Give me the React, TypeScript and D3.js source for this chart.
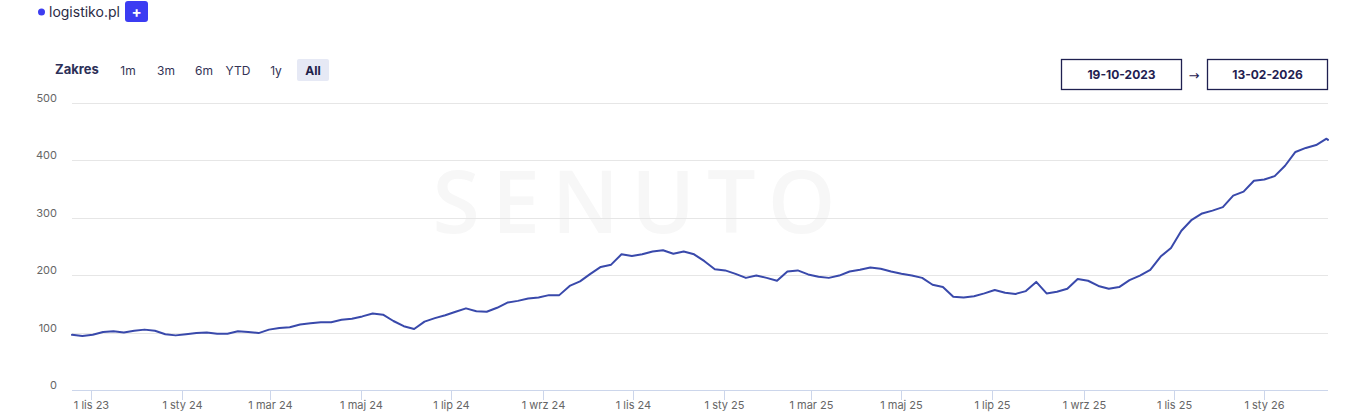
import React from "react";
import * as d3 from "d3";

const dates: string[] = [
  "2023-10-19","2023-10-26","2023-11-02","2023-11-09","2023-11-16","2023-11-23","2023-11-30","2023-12-07","2023-12-14","2023-12-21","2023-12-28",
  "2024-01-04","2024-01-11","2024-01-18","2024-01-25","2024-02-01","2024-02-08","2024-02-15","2024-02-22","2024-02-29","2024-03-07","2024-03-14","2024-03-21","2024-03-28",
  "2024-04-04","2024-04-11","2024-04-18","2024-04-25","2024-05-02","2024-05-09","2024-05-16","2024-05-23","2024-05-30","2024-06-06","2024-06-13","2024-06-20","2024-06-27",
  "2024-07-04","2024-07-11","2024-07-18","2024-07-25","2024-08-01","2024-08-08","2024-08-15","2024-08-22","2024-08-29","2024-09-05","2024-09-12","2024-09-19","2024-09-26",
  "2024-10-03","2024-10-10","2024-10-17","2024-10-24","2024-10-31","2024-11-07","2024-11-14","2024-11-21","2024-11-28","2024-12-05","2024-12-12","2024-12-19","2024-12-26",
  "2025-01-02","2025-01-09","2025-01-16","2025-01-23","2025-01-30","2025-02-06","2025-02-13","2025-02-20","2025-02-27","2025-03-06","2025-03-13","2025-03-20","2025-03-27",
  "2025-04-03","2025-04-10","2025-04-17","2025-04-24","2025-05-01","2025-05-08","2025-05-15","2025-05-22","2025-05-29","2025-06-05","2025-06-12","2025-06-19","2025-06-26",
  "2025-07-03","2025-07-10","2025-07-17","2025-07-24","2025-07-31","2025-08-07","2025-08-14","2025-08-21","2025-08-28","2025-09-04","2025-09-11","2025-09-18","2025-09-25",
  "2025-10-02","2025-10-09","2025-10-16","2025-10-23","2025-10-30","2025-11-06","2025-11-13","2025-11-20","2025-11-27","2025-12-04","2025-12-11","2025-12-18","2025-12-25",
  "2026-01-01","2026-01-08","2026-01-15","2026-01-22","2026-01-29","2026-02-05","2026-02-12","2026-02-13"
];

const values: number[] = [
  96,94,96,101,102,100,103,105,103,97,95,
  97,99,100,98,98,102,101,99,105,108,109,114,116,
  118,118,122,124,128,133,131,120,111,106,119,125,130,
  136,142,137,136,143,152,155,159,161,165,165,181,189,
  202,214,218,236,233,236,241,243,237,241,236,224,210,
  208,202,195,199,195,190,206,208,201,197,195,199,206,
  209,213,211,206,202,199,195,183,179,162,161,163,168,
  174,169,167,172,188,168,171,176,193,190,181,176,179,
  191,199,209,232,247,277,296,307,312,318,338,345,364,
  366,372,390,414,421,426,437,435
];

const yTicks: number[] = [0, 100, 200, 300, 400, 500];

const xTickDates: string[] = [
  "2023-11-01","2024-01-01","2024-03-01","2024-05-01","2024-07-01","2024-09-01","2024-11-01",
  "2025-01-01","2025-03-01","2025-05-01","2025-07-01","2025-09-01","2025-11-01","2026-01-01"
];
const xTickLabels: string[] = [
  "1 lis 23","1 sty 24","1 mar 24","1 maj 24","1 lip 24","1 wrz 24","1 lis 24",
  "1 sty 25","1 mar 25","1 maj 25","1 lip 25","1 wrz 25","1 lis 25","1 sty 26"
];

const rangeButtons: string[] = ["1m", "3m", "6m", "YTD", "1y", "All"];
const startLabel = "19-10-2023";
const endLabel = "13-02-2026";
const siteName = "logistiko.pl";

const FONT = "Inter, 'Open Sans', sans-serif";

export default function App() {
  const W = 1359, H = 420;
  const left = 72, right = 1328, top = 102.5, bottom = 390;
  const parse = d3.timeParse("%Y-%m-%d");
  const data = dates.map((d, i) => ({ date: parse(d) as Date, value: values[i] }));
  const x = d3.scaleTime()
    .domain([parse("2023-10-19") as Date, parse("2026-02-13") as Date])
    .range([left, right]);
  const y = d3.scaleLinear().domain([0, 500]).range([bottom, top]);
  const line = d3.line<{ date: Date; value: number }>()
    .x(d => x(d.date))
    .y(d => y(d.value))
    .curve(d3.curveLinear);

  const btnX = [128, 166, 204, 238, 276, 313];

  return (
    <svg width={W} height={H} style={{ position: "fixed", left: 0, top: 0, background: "#fff" }} fontFamily={FONT}>
      <rect x={0} y={0} width={W} height={H} fill="#fff" />
      {/* header */}
      <circle cx={41.5} cy={12} r={3.5} fill="#3d3df0" />
      <text x={49} y={17} fontSize={14} fill="#2b2b45">{siteName}</text>
      <rect x={125} y={1} width={23} height={21} rx={3} fill="#3b3cf2" />
      <text x={136.5} y={16.5} fontSize={15} fontWeight={700} fill="#fff" textAnchor="middle">+</text>

      {/* range selector */}
      <text x={55} y={73.5} fontSize={13} fontWeight={700} fill="#2d3058">Zakres</text>
      <rect x={297} y={59} width={32} height={22} rx={2} fill="#e6e9f5" />
      {rangeButtons.map((b, i) => (
        <text key={b} x={btnX[i]} y={75} fontSize={12} fontWeight={b === "All" ? 700 : 400}
          fill={b === "All" ? "#1e2148" : "#333355"} textAnchor="middle">{b}</text>
      ))}

      {/* date inputs */}
      <rect x={1061.5} y={59.5} width={120} height={30} fill="#fff" stroke="#1f2050" strokeWidth={1.3} />
      <text x={1121.5} y={79} fontSize={12} fontWeight={700} fill="#1f2050" textAnchor="middle">{startLabel}</text>
      <text x={1194} y={80} fontSize={13} fill="#1f2050" textAnchor="middle" fontFamily="'DejaVu Sans', sans-serif">→</text>
      <rect x={1207.5} y={59.5} width={120} height={30} fill="#fff" stroke="#1f2050" strokeWidth={1.3} />
      <text x={1267.5} y={79} fontSize={12} fontWeight={700} fill="#1f2050" textAnchor="middle">{endLabel}</text>

      {/* watermark */}
      <text x={640} y={233} fontSize={86} fontWeight={600} fill="#f7f7f7" textAnchor="middle" letterSpacing={12}
        fontFamily="'Open Sans', sans-serif">SENUTO</text>

      {/* grid */}
      {yTicks.filter(t => t > 0).map(t => (
        <line key={t} x1={left} x2={right} y1={Math.round(y(t)) + 0.5} y2={Math.round(y(t)) + 0.5} stroke="#e6e6e6" strokeWidth={1} />
      ))}
      {yTicks.map(t => (
        <text key={"l" + t} x={57} y={y(t) - 1} fontSize={11} fill="#666" textAnchor="end">{t}</text>
      ))}

      {/* x axis */}
      <line x1={left} x2={right} y1={bottom + 0.5} y2={bottom + 0.5} stroke="#ccd6eb" strokeWidth={1} />
      {xTickDates.map((d, i) => {
        const xx = Math.round(x(parse(d) as Date)) + 0.5;
        return (
          <g key={d}>
            <line x1={xx} x2={xx} y1={bottom} y2={bottom + 10} stroke="#ccd6eb" strokeWidth={1} />
            <text x={xx} y={409} fontSize={11} fill="#666" textAnchor="middle">{xTickLabels[i]}</text>
          </g>
        );
      })}

      {/* series */}
      <path d={line(data) || ""} fill="none" stroke="#3949ab" strokeWidth={2} strokeLinejoin="round" strokeLinecap="round" />
    </svg>
  );
}
